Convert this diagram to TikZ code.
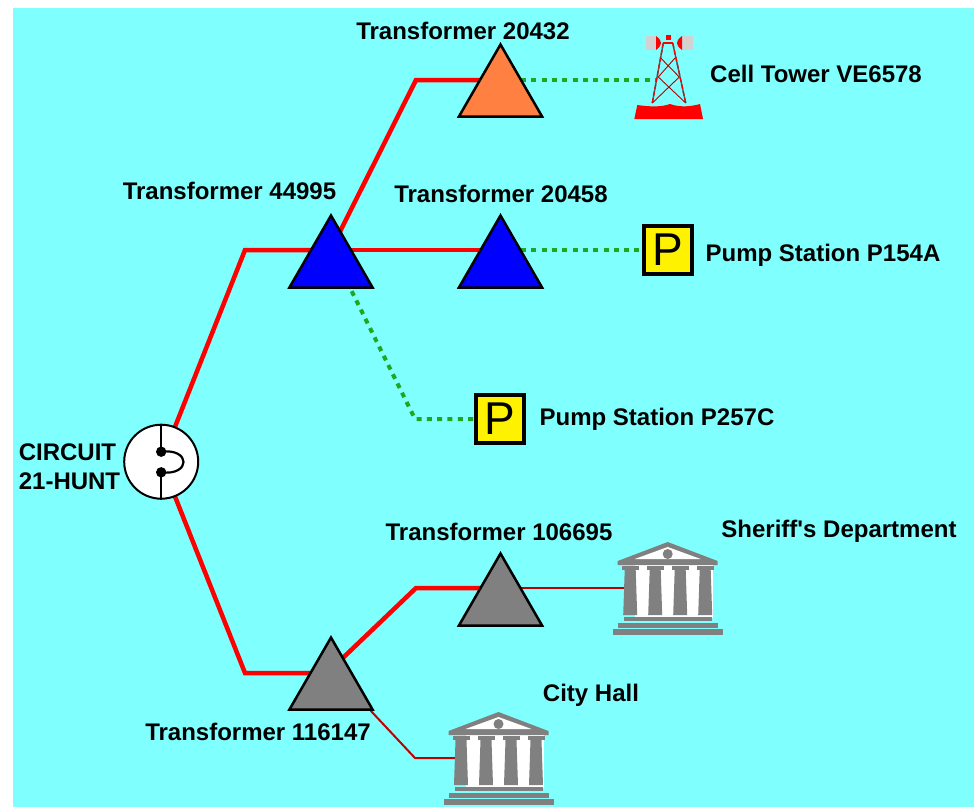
\documentclass[tikz,border=0pt]{standalone}
\usepackage{fontspec}
\setmainfont{Liberation Sans}[Ligatures=TeXOff]
\usetikzlibrary{shapes.geometric,backgrounds}
\definecolor{skybg}{HTML}{80FFFF}
\definecolor{feedgreen}{HTML}{1FA81F}
\definecolor{bankgray}{HTML}{808080}
\definecolor{xfmrorange}{HTML}{FF8040}
\tikzset{
	xfmr/.style={regular polygon,regular polygon sides=3,draw=black,line width=2.5pt,inner sep=0pt,minimum size=96pt},
	lbl/.style={font=\fontsize{24}{29}\selectfont\bfseries,inner sep=0pt,text=black},
	pumpbox/.style={draw=black,fill=yellow,line width=4pt,inner sep=0pt,minimum size=48pt,font=\fontsize{46}{46}\selectfont},
	feed/.style={red,line width=4.5pt},
	tap/.style={red!75!black,line width=2pt},
	dotfeed/.style={feedgreen,line width=4pt,dash pattern=on 5pt off 5.3pt},
	bank/.pic={
		\fill[white] (-33,-26) rectangle (45,28);
		\fill[bankgray] (0,-48) -- (50,-29) -- (50,-25) -- (-50,-25) -- (-50,-29) -- cycle;
		\fill[white] (0,-43) -- (33,-31) -- (-33,-31) -- cycle;
		\fill[bankgray] (0,-36) circle (5);
		\foreach \colx in {-37.5,-12.5,12.5,37.5} {
			\fill[bankgray] (\colx-8.5,-24) rectangle (\colx+8.5,-20);
			\fill[bankgray] (\colx-5.5,-20) -- (\colx+5.5,-20) -- (\colx+7,25) -- (\colx-7,25) -- cycle;
		}
		\fill[bankgray] (-44,27) rectangle (44,31);
		\fill[bankgray] (-50,33) rectangle (50,38);
		\fill[bankgray] (-55,39) rectangle (55,45);
		\coordinate (-west) at (-42,-2);
	},
	celltower/.pic={
		% base
		\fill[red] (-34.7,41) -- (-31.7,27) .. controls (-24,28) and (-10,30) .. (1,26) .. controls (12,30) and (24,28) .. (31,26) -- (34,41) -- cycle;
		% panels
		\fill[gray!35] (-23,-42) rectangle (-13,-28);
		\fill[gray!35] (13,-42) rectangle (24,-28);
		\fill[red] (-13,-42) .. controls (-9,-39) and (-8,-37) .. (-8,-35) .. controls (-8,-33) and (-9,-31) .. (-13,-28) -- cycle;
		\fill[red] (13,-42) .. controls (9,-39) and (8,-37) .. (8,-35) .. controls (8,-33) and (9,-31) .. (13,-28) -- cycle;
		\fill[red] (-3,-43) rectangle (2,-38);
		% legs
		\draw[teal,line width=1.4pt] (-5.7,-35) -- (-16.7,25) (3.7,-35) -- (16.7,25);
		\draw[red,line width=1.4pt,dash pattern=on 5pt off 2pt] (-5.7,-35) -- (-16.7,25) (3.7,-35) -- (16.7,25);
		\draw[red,line width=1.4pt] (-5.7,-35) -- (3.7,-35);
		% braces
		\draw[red!70!black,line width=.9pt] (-8.3,-20) -- (10.3,-1) (6,-20) -- (-10.7,-1) (-10.7,-1) -- (16.7,25) (10.3,-1) -- (-16.7,25);
		\coordinate (-west) at (-12.5,2);
	}
}
\begin{document}
\begin{tikzpicture}[x=1pt,y=-1pt]
	\useasboundingbox (0,0) rectangle (974,807);
	% devices
	\node[circle,draw=black,line width=2pt,fill=white,minimum size=74pt,inner sep=0pt] (circuit) at (161.2,461.7) {};
	\fill (161.2,451.7) coordinate (dotA) circle (5.2) (161.2,472.3) coordinate (dotB) circle (5.2);
	\draw[line width=2pt] (circuit.north) -- (dotA) (dotB) -- (circuit.south);
	\draw[line width=2.2pt] (dotA) .. controls (191,448) and (191,476) .. (dotB);
	\node[xfmr,fill=blue] (t44995) at (331,263.5) {};
	\node[xfmr,fill=xfmrorange] (t20432) at (500.5,92.5) {};
	\node[xfmr,fill=blue] (t20458) at (500.5,263.5) {};
	\node[xfmr,fill=bankgray] (t106695) at (500.5,601.5) {};
	\node[xfmr,fill=bankgray] (t116147) at (331,685.5) {};
	\node[pumpbox] (p154a) at (667.5,250) {P};
	\node[pumpbox] (p257c) at (500,419) {P};
	\pic (tower) at (669,78) {celltower};
	\pic (sheriff) at (667.7,590) {bank};
	\pic (hall) at (498.5,760) {bank};
	% bends
	\coordinate (bendA) at (245,250);
	\coordinate (bendB) at (416,80);
	\coordinate (bendC) at (415,419);
	\coordinate (bendD) at (245,673);
	\coordinate (bendE) at (416,588);
	\coordinate (bendF) at (415,758);
	% labels
	\node[lbl] (l20432) at (463,31) {Transformer 20432};
	\node[lbl] (ltower) at (816,74) {Cell Tower VE6578};
	\node[lbl] (l44995) at (229.5,191) {Transformer 44995};
	\node[lbl] (l20458) at (501,194) {Transformer 20458};
	\node[lbl] (lp154a) at (823,255.5) {Pump Station P154A};
	\node[lbl] (lp257c) at (657,419.5) {Pump Station P257C};
	\node[lbl,align=left] (lcircuit) at (69.5,466.5) {CIRCUIT\\21-HUNT};
	\node[lbl] (l106695) at (499,532) {Transformer 106695};
	\node[lbl] (lsheriff) at (839,531.5) {Sheriff's Department};
	\node[lbl] (lhall) at (591,695) {City Hall};
	\node[lbl] (l116147) at (258,732) {Transformer 116147};
	% connectors under the devices
	\begin{pgfonlayer}{background}
		\fill[skybg] (13,8) rectangle (974,807);
		\draw[feed,line join=miter] (circuit.center) -- (bendA) -- (bendA -| t44995.center);
		\draw[feed] ([xshift=-7pt]t44995.center) -- (bendB) -- (bendB -| t20432.center);
		\draw[feed] (bendA -| t44995.center) -- (bendA -| t20458.center);
		\draw[feed] (circuit.center) -- (bendD) -- (bendD -| t116147.center);
		\draw[feed] ([xshift=-17pt]t116147.center) -- (bendE) -- (bendE -| t106695.center);
		\draw[dotfeed] (bendB -| t20432.center) -- (tower-west);
		\draw[dotfeed] (bendA -| t20458.center) -- (p154a.west);
		\draw[dotfeed] ([xshift=7pt]t44995.center) -- (bendC) -- (p257c.west);
		\draw[tap] (bendE -| t106695.center) -- (sheriff-west);
		\draw[tap] ([xshift=-4pt]t116147.corner 3) -- (bendF) -- (hall-west);
	\end{pgfonlayer}
\end{tikzpicture}
\end{document}
